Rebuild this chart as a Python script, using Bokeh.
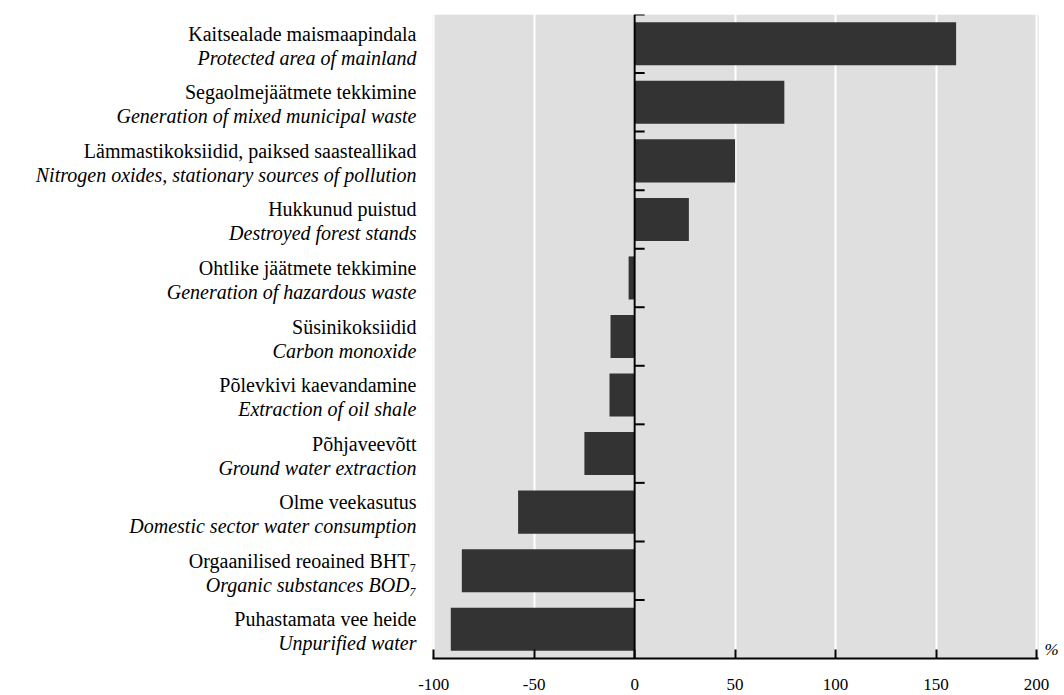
from bokeh.plotting import figure
from bokeh.models import (ColumnDataSource, Range1d, Span, FixedTicker, BoxAnnotation,
                          PrintfTickFormatter)
from bokeh.embed import file_html
from bokeh.resources import INLINE
from bokeh.core.properties import value

labels_et = [
    "Kaitsealade maismaapindala",
    "Segaolmejäätmete tekkimine",
    "Lämmastikoksiidid, paiksed saasteallikad",
    "Hukkunud puistud",
    "Ohtlike jäätmete tekkimine",
    "Süsinikoksiidid",
    "Põlevkivi kaevandamine",
    "Põhjaveevõtt",
    "Olme veekasutus",
    "Orgaanilised reoained BHT₇",
    "Puhastamata vee heide",
]
labels_en = [
    "Protected area of mainland",
    "Generation of mixed municipal waste",
    "Nitrogen oxides, stationary sources of pollution",
    "Destroyed forest stands",
    "Generation of hazardous waste",
    "Carbon monoxide",
    "Extraction of oil shale",
    "Ground water extraction",
    "Domestic sector water consumption",
    "Organic substances BOD₇",
    "Unpurified water",
]
change_pct = [160, 74.5, 50, 27, -3, -12, -12.5, -25, -58, -86, -91.5]
x_ticks = [-100, -50, 0, 50, 100, 150, 200]
unit_label = ["%"]

# plot-area extent in data units, and its pixel placement in the 1064x695 canvas
X_MIN, X_MAX = -100.6, 201.0
W, H = 1064, 695
AREA_LEFT_PX, AREA_RIGHT_PX = 432, 1038
scale = (AREA_RIGHT_PX - AREA_LEFT_PX) / (X_MAX - X_MIN)
x_start = X_MIN - AREA_LEFT_PX / scale
x_end = X_MAX + (W - AREA_RIGHT_PX) / scale

n = len(labels_et)
ypos = [n - 1 - i for i in range(n)]
boundaries = [i + 0.5 for i in range(n)]

src = ColumnDataSource(dict(y=ypos, val=change_pct, et=labels_et, en=labels_en,
                            lx=[X_MIN] * n))

FONT = "Liberation Serif"

p = figure(
    width=W, height=H,
    x_range=Range1d(x_start, x_end), y_range=Range1d(-0.5, n - 0.5),
    y_axis_location=None, toolbar_location=None, output_backend="svg",
    min_border_left=0, min_border_right=0, min_border_top=14, min_border_bottom=37,
)
p.background_fill_color = "white"
p.border_fill_color = "white"
p.outline_line_color = None

# grey plot area
p.add_layout(BoxAnnotation(left=X_MIN, right=X_MAX, fill_color="#dfdfdf", fill_alpha=1,
                           line_color=None, level="image"))

p.hbar(y="y", left=0, right="val", height=0.735, source=src,
       fill_color="#333333", line_color=None)

# y axis at zero with ticks pointing right at category boundaries
p.add_layout(Span(location=0, dimension="height", line_color="black", line_width=2))
p.ray(x=0, y=boundaries, length=10, length_units="screen", angle=0,
      line_color="black", line_width=2)

# x axis
xa = p.xaxis[0]
xa.ticker = FixedTicker(ticks=x_ticks)
xa.formatter = PrintfTickFormatter(format="%d")
xa.bounds = (X_MIN, X_MAX)
xa.major_tick_in = 9
xa.major_tick_out = 0
xa.minor_tick_line_color = None
xa.axis_line_width = 2
xa.axis_line_color = "black"
xa.major_tick_line_width = 2
xa.major_tick_line_color = "black"
xa.major_label_text_font = FONT
xa.major_label_text_font_size = "17px"
xa.major_label_text_color = "black"
xa.major_label_standoff = 20

p.xgrid.grid_line_color = "white"
p.xgrid.grid_line_width = 2
p.ygrid.visible = False

# category labels (Estonian upright, English italic)
p.text(x="lx", y="y", text="et", source=src, x_offset=-16, y_offset=-10,
       text_align="right", text_baseline="alphabetic",
       text_font=value(FONT), text_font_size="20px", text_color="black")
p.text(x="lx", y="y", text="en", source=src, x_offset=-16, y_offset=14,
       text_align="right", text_baseline="alphabetic",
       text_font=value(FONT), text_font_size="20px", text_font_style="italic",
       text_color="black")

# unit label
p.text(x=[X_MAX], y=[-0.5], text=unit_label, x_offset=6, y_offset=0,
       text_align="left", text_baseline="bottom",
       text_font=value(FONT), text_font_size="17px", text_font_style="italic",
       text_color="black")

open("out.html", "w").write(file_html(p, INLINE))
